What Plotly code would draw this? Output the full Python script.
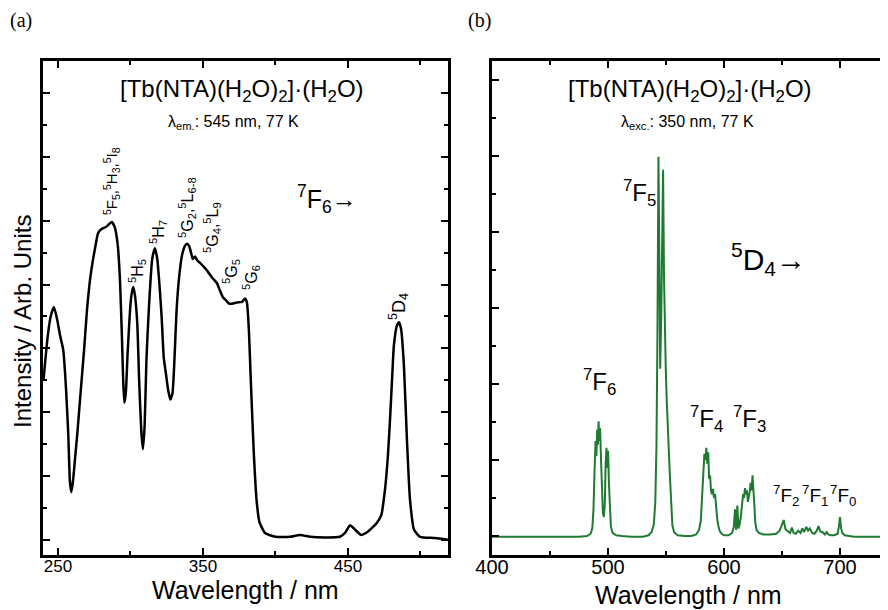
import plotly.graph_objects as go

# ---------------- data ----------------
# (a) excitation spectrum, lambda_em = 545 nm
wl_exc = [240, 243, 245, 247.2, 249.5, 251.5, 253.7, 255.5, 257.1, 258.3, 259.3, 260.5, 261.7,
          263.5, 265.2, 268, 270, 272, 274.1, 276, 277.6, 279.5, 281, 283, 285, 287.2, 289.3,
          290.5, 291.4, 292.8, 294.1, 295, 295.8, 296.8, 298, 299.7, 300.8, 301.9, 303, 304.7,
          306, 307.5, 308.6, 309.8, 311, 312.2, 313.4, 315, 316.9, 318.5, 320, 321.5, 323,
          324.5, 326, 327.5, 329, 330.5, 331.8, 333.5, 335.5, 337.5, 339, 340.5, 342, 343,
          344.5, 346, 348, 350.5, 352.8, 355, 357, 359.7, 361.5, 363.8, 366, 368, 370, 373.4,
          377, 379, 380.3, 381.7, 383, 385, 387, 389, 392.8, 400, 410, 417, 424, 435, 444.5,
          448, 451.4, 455, 459, 462.4, 466.6, 470, 473, 475.5, 477.5, 479, 480.5, 481.7, 483.8,
          485.2, 486.6, 488.6, 490.7, 492.8, 495.6, 499.7, 510, 520]
int_exc = [2.5, 3.2, 3.5, 3.65, 3.45, 3.2, 2.97, 2.4, 1.67, 0.9, 0.75, 0.95, 1.25,
           1.7, 2.19, 2.97, 3.59, 4.05, 4.38, 4.62, 4.8, 4.86, 4.88, 4.9, 4.94, 4.98, 4.89,
           4.75, 4.58, 4.06, 3.2, 2.5, 2.15, 2.3, 2.9, 3.59, 3.85, 3.96, 3.85, 3.4,
           2.5, 1.7, 1.42, 1.8, 2.8, 3.4, 3.9, 4.4, 4.57, 4.4, 4.0, 3.5, 2.85,
           2.6, 2.35, 2.2, 2.3, 2.9, 3.59, 4.1, 4.45, 4.6, 4.64, 4.6, 4.48, 4.4,
           4.44, 4.38, 4.34, 4.28, 4.22, 4.15, 4.09, 4.02, 3.92, 3.8, 3.75, 3.7, 3.7, 3.72,
           3.73, 3.78, 3.72, 3.28, 2.5, 1.4, 0.62, 0.28, 0.11, 0.05, 0.05, 0.08, 0.05, 0.04, 0.05,
           0.11, 0.23, 0.16, 0.08, 0.11, 0.19, 0.27, 0.39, 0.78, 1.3, 1.88, 2.55, 3.05, 3.36,
           3.41, 3.31, 2.73, 1.56, 0.63, 0.16, 0.05, 0.03, 0.0]

# (b) emission spectrum, lambda_exc = 350 nm
wl_em = [400, 420, 440, 460, 475, 482, 485, 486.5, 487.5, 488.5, 489.3, 490, 490.7, 491.3, 491.9,
         492.5, 493.2, 494, 494.8, 495.6, 496.4, 497.2, 498, 498.7, 499.4, 500.1, 500.8, 501.6,
         502.5, 504, 507, 512, 520, 530, 535, 537.5, 539.5, 540.8, 541.8, 542.6, 543.5, 544.3,
         545, 545.8, 546.6, 547.5, 548.3, 549, 549.8, 550.6, 551.5, 552.5, 553.5, 554.5, 555.5,
         557, 560, 566, 572, 576, 578.5, 580, 581.2, 582.2, 583.1, 584, 584.8, 585.6, 586.4,
         587.2, 588, 588.8, 589.6, 590.5, 591.4, 592.3, 593.2, 594.2, 595.3, 596.5, 598, 600,
         604, 607, 608.5, 609.5, 610.5, 611.5, 612.5, 613.5, 614.5, 615.5, 616.5, 617.3, 618.1,
         619, 619.8, 620.6, 621.4, 622.2, 623, 623.8, 624.6, 625.4, 626.2, 627, 628, 630, 634,
         640, 645, 648, 650, 651.5, 653, 655, 657, 658.5, 660, 662, 664, 666, 667.5, 669, 671,
         672.5, 674, 676, 678, 680, 681.5, 683, 685, 687, 688.5, 690, 692, 695, 698, 699, 700,
         701, 702, 704, 707, 712, 720, 730, 741.4]
int_em = [-0.01, -0.01, -0.01, -0.01, -0.01, 0.0, 0.03, 0.1, 0.35, 0.9, 1.25, 1.05, 1.4, 1.2, 1.51,
          1.25, 1.42, 1.0, 0.55, 0.3, 0.25, 0.4, 0.95, 1.16, 0.9, 1.12, 0.7, 0.3,
          0.12, 0.04, 0.01, 0.0, -0.01, -0.01, 0.01, 0.05, 0.15, 0.45, 1.2, 2.6, 4.99, 3.6,
          2.2, 2.8, 3.9, 4.82, 3.4, 2.6, 2.2, 1.8, 1.35, 1.1, 0.75, 0.35, 0.14,
          0.05, 0.01, 0.0, 0.0, 0.02, 0.08, 0.2, 0.5, 0.9, 1.08, 1.0, 1.16, 0.95, 1.1,
          0.75, 0.8, 0.6, 0.55, 0.62, 0.5, 0.55, 0.35, 0.22, 0.12, 0.06, 0.03, 0.01,
          0.01, 0.04, 0.12, 0.35, 0.08, 0.4, 0.1, 0.15, 0.25, 0.4, 0.55, 0.5, 0.63,
          0.55, 0.6, 0.45, 0.5, 0.58, 0.7, 0.6, 0.8, 0.65, 0.4, 0.18, 0.08, 0.04, 0.02,
          0.02, 0.03, 0.07, 0.14, 0.21, 0.09, 0.06, 0.04, 0.11, 0.04, 0.03, 0.07, 0.04, 0.1, 0.05, 0.12,
          0.07, 0.1, 0.04, 0.03, 0.07, 0.13, 0.06, 0.05, 0.02, 0.05, 0.02, 0.01, 0.01, 0.03, 0.12, 0.25,
          0.1, 0.04, 0.01, 0.0, -0.01, -0.01, -0.01, -0.01]

ticks_a = [250, 350, 450]
minor_a = [300, 400, 500]
ticks_b = [400, 500, 600, 700]
minor_b = [450, 550, 650]

# ---------------- layout helpers ----------------
# the page body has an 8 px margin, so the figure is 8 px smaller and all
# screen positions below are shifted by that offset
OFF = 8
W, H = 888 - OFF, 610 - OFF
def px(x):
    return (x - OFF) / W
def py(y):
    return 1 - (y - OFF) / H

FONT = "Arial, Liberation Sans, sans-serif"
SERIF = "Liberation Serif, Times New Roman, serif"
GREEN = "#1f7a32"

fig = go.Figure()
fig.add_trace(go.Scatter(x=wl_exc, y=int_exc, mode="lines", xaxis="x", yaxis="y",
                         line=dict(color="black", width=2.5, shape="spline", smoothing=0.5),
                         showlegend=False, hoverinfo="skip"))
fig.add_trace(go.Scatter(x=wl_em, y=int_em, mode="lines", xaxis="x2", yaxis="y2",
                         line=dict(color=GREEN, width=2),
                         showlegend=False, hoverinfo="skip"))

ax_common = dict(showline=True, linecolor="black", linewidth=3, ticks="inside",
                 tickcolor="black", tickwidth=2, ticklen=7, showgrid=False, zeroline=False,
                 tickmode="array", automargin=False)

fig.update_layout(
    width=W, height=H, autosize=False,
    margin=dict(l=0, r=0, t=0, b=0, pad=0, autoexpand=False),
    paper_bgcolor="white", plot_bgcolor="white",
    font=dict(family=FONT, color="black"),
    xaxis=dict(ax_common, domain=[px(43), px(448)], range=[239.7, 519], tickvals=ticks_a,
               mirror="allticks", tickfont=dict(size=17), anchor="y", ticklabelstandoff=-6,
               minor=dict(tickvals=minor_a, ticks="inside", ticklen=4, tickwidth=2, tickcolor="black")),
    yaxis=dict(ax_common, domain=[py(555), py(61)], range=[-0.235, 7.5],
               tickvals=list(range(0, 8)), showticklabels=False, mirror="allticks", anchor="x",
               minor=dict(tickvals=[i + 0.5 for i in range(7)], ticks="inside", ticklen=4,
                          tickwidth=2, tickcolor="black")),
    xaxis2=dict(ax_common, domain=[px(492), 1.0], range=[400, 741.4], tickvals=ticks_b,
                mirror="allticks", tickfont=dict(size=20), anchor="y2", ticklabelstandoff=-8,
                minor=dict(tickvals=minor_b, ticks="inside", ticklen=4, tickwidth=2, tickcolor="black")),
    yaxis2=dict(ax_common, domain=[py(555), py(61)], range=[-0.25, 6.25],
                tickvals=list(range(0, 7)), showticklabels=False, mirror=False, anchor="x2",
                minor=dict(tickvals=[i + 0.5 for i in range(6)], ticks="inside", ticklen=4,
                           tickwidth=2, tickcolor="black")),
)

def ann(x, y, text, size, angle=0, family=FONT, color="black"):
    fig.add_annotation(x=px(x), y=py(y), xref="paper", yref="paper", text=text,
                       showarrow=False, textangle=angle, xanchor="center", yanchor="middle",
                       font=dict(size=size, family=family, color=color))

title = "[Tb(NTA)(H<sub>2</sub>O)<sub>2</sub>]·(H<sub>2</sub>O)"

# panel labels
ann(21, 21, "(a)", 20, family=SERIF)
ann(479, 21, "(b)", 20, family=SERIF)

# titles
ann(242, 90, title, 24)
ann(233, 122, "λ<sub>em.</sub>: 545 nm, 77 K", 16)
ann(690, 90, title, 24)
ann(687, 122, "λ<sub>exc.</sub>: 350 nm, 77 K", 16)

# axis titles
ann(245, 590, "Wavelength / nm", 25)
ann(688, 595, "Wavelength / nm", 25)
ann(22, 322, "Intensity / Arb. Units", 24, angle=-90)

# (a) assignments
ann(112, 181, "<sup>5</sup>F<sub>5</sub>,<sup>5</sup>H<sub>3</sub>,<sup>5</sup>I<sub>8</sub>", 15, angle=-90)
ann(137, 271, "<sup>5</sup>H<sub>5</sub>", 16, angle=-90)
ann(158, 232, "<sup>5</sup>H<sub>7</sub>", 16, angle=-90)
ann(187, 208, "<sup>5</sup>G<sub>2</sub>,<sup>5</sup>L<sub>6-8</sub>", 16, angle=-90)
ann(212, 228, "<sup>5</sup>G<sub>4</sub>,<sup>5</sup>L<sub>9</sub>", 16, angle=-90)
ann(231, 272, "<sup>5</sup>G<sub>5</sub>", 16, angle=-90)
ann(251, 278, "<sup>5</sup>G<sub>6</sub>", 16, angle=-90)
ann(398, 307, "<sup>5</sup>D<sub>4</sub>", 18, angle=-90)
ann(327, 199, "<sup>7</sup>F<sub>6</sub>→", 25)

# (b) assignments
ann(639, 193, "<sup>7</sup>F<sub>5</sub>", 24)
ann(768, 259, "<sup>5</sup>D<sub>4</sub>→", 30)
ann(599, 382, "<sup>7</sup>F<sub>6</sub>", 24)
ann(706, 419, "<sup>7</sup>F<sub>4</sub>", 24)
ann(749, 419, "<sup>7</sup>F<sub>3</sub>", 24)
ann(786, 495, "<sup>7</sup>F<sub>2</sub>", 19)
ann(815, 495, "<sup>7</sup>F<sub>1</sub>", 19)
ann(843, 495, "<sup>7</sup>F<sub>0</sub>", 19)

fig.write_html("out.html")
